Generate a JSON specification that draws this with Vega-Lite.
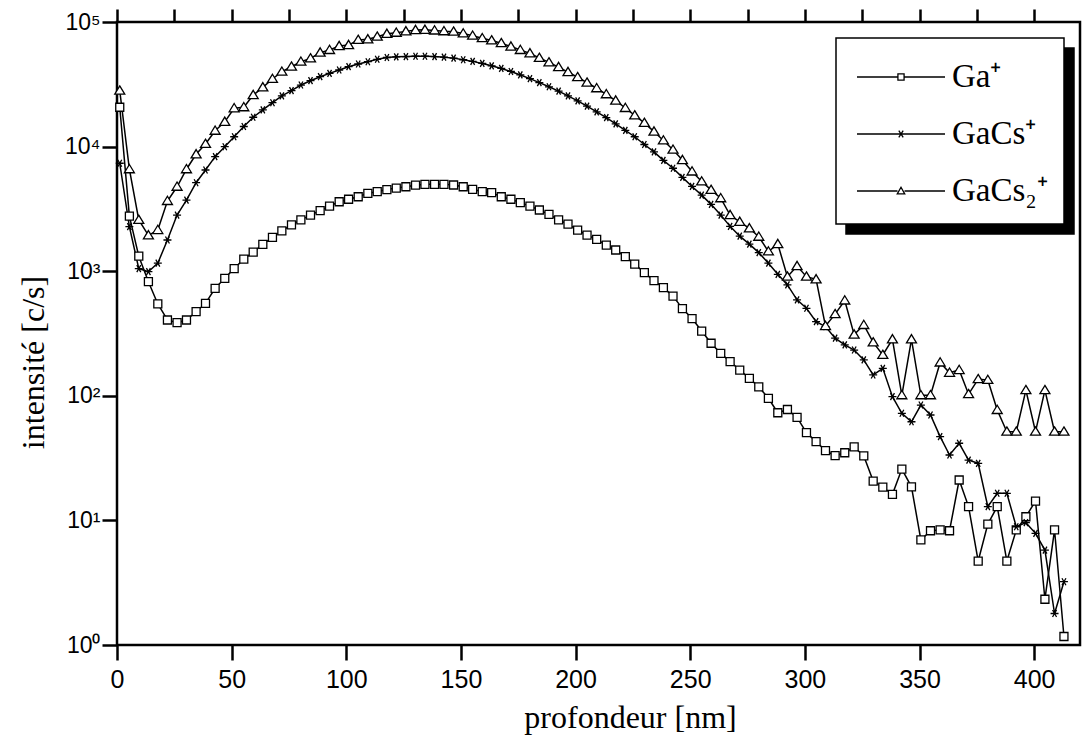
{
  "$schema": "https://vega.github.io/schema/vega-lite/v6.json",
  "width": 963,
  "height": 623,
  "autosize": {"type": "none"},
  "padding": {"left": 117, "top": 22, "right": 6, "bottom": 97},
  "background": "white",
  "config": {
    "view": {"stroke": "black", "strokeWidth": 2.5}
  },
  "data": {"values": [
    {"d":1.2,"Ga":20700,"GaCs":7350,"GaCs2":28100},
    {"d":5.4,"Ga":2770,"GaCs":2280,"GaCs2":6580},
    {"d":9.5,"Ga":1320,"GaCs":1050,"GaCs2":2580},
    {"d":13.7,"Ga":824,"GaCs":991,"GaCs2":1940},
    {"d":17.8,"Ga":546,"GaCs":1160,"GaCs2":2140},
    {"d":22.0,"Ga":406,"GaCs":1780,"GaCs2":3660},
    {"d":26.2,"Ga":386,"GaCs":2820,"GaCs2":4760},
    {"d":30.3,"Ga":406,"GaCs":3720,"GaCs2":6580},
    {"d":34.5,"Ga":473,"GaCs":5130,"GaCs2":8670},
    {"d":38.6,"Ga":552,"GaCs":6490,"GaCs2":10500},
    {"d":42.8,"Ga":729,"GaCs":8300,"GaCs2":13400},
    {"d":47.0,"Ga":877,"GaCs":9980,"GaCs2":15800},
    {"d":51.1,"Ga":1050,"GaCs":12000,"GaCs2":20300},
    {"d":55.3,"Ga":1250,"GaCs":14500,"GaCs2":20700},
    {"d":59.4,"Ga":1420,"GaCs":17200,"GaCs2":25900},
    {"d":63.6,"Ga":1640,"GaCs":19700,"GaCs2":29900},
    {"d":67.8,"Ga":1870,"GaCs":22500,"GaCs2":34900},
    {"d":71.9,"Ga":2110,"GaCs":25500,"GaCs2":39900},
    {"d":76.1,"Ga":2350,"GaCs":28100,"GaCs2":43800},
    {"d":80.2,"Ga":2580,"GaCs":31200,"GaCs2":48000},
    {"d":84.4,"Ga":2820,"GaCs":33800,"GaCs2":51000},
    {"d":88.6,"Ga":3060,"GaCs":36400,"GaCs2":56800},
    {"d":92.7,"Ga":3330,"GaCs":38700,"GaCs2":59600},
    {"d":96.9,"Ga":3610,"GaCs":41200,"GaCs2":64100},
    {"d":101.0,"Ga":3780,"GaCs":43800,"GaCs2":65300},
    {"d":105.2,"Ga":3960,"GaCs":46000,"GaCs2":71800},
    {"d":109.4,"Ga":4220,"GaCs":48000,"GaCs2":72600},
    {"d":113.5,"Ga":4350,"GaCs":50200,"GaCs2":76200},
    {"d":117.7,"Ga":4520,"GaCs":51900,"GaCs2":80400},
    {"d":121.8,"Ga":4650,"GaCs":52500,"GaCs2":82000},
    {"d":126.0,"Ga":4760,"GaCs":52800,"GaCs2":84100},
    {"d":130.2,"Ga":4900,"GaCs":53100,"GaCs2":86100},
    {"d":134.3,"Ga":4980,"GaCs":53100,"GaCs2":86500},
    {"d":138.5,"Ga":4980,"GaCs":52800,"GaCs2":85500},
    {"d":142.6,"Ga":4980,"GaCs":52200,"GaCs2":84300},
    {"d":146.8,"Ga":4920,"GaCs":51300,"GaCs2":83600},
    {"d":151.0,"Ga":4760,"GaCs":49800,"GaCs2":80900},
    {"d":155.1,"Ga":4540,"GaCs":48300,"GaCs2":77600},
    {"d":159.3,"Ga":4350,"GaCs":46500,"GaCs2":74100},
    {"d":163.4,"Ga":4270,"GaCs":44500,"GaCs2":71100},
    {"d":167.6,"Ga":3960,"GaCs":42400,"GaCs2":67600},
    {"d":171.8,"Ga":3780,"GaCs":40100,"GaCs2":63500},
    {"d":175.9,"Ga":3550,"GaCs":37600,"GaCs2":59600},
    {"d":180.1,"Ga":3330,"GaCs":35100,"GaCs2":56000},
    {"d":184.2,"Ga":3100,"GaCs":32600,"GaCs2":51500},
    {"d":188.4,"Ga":2860,"GaCs":30200,"GaCs2":47400},
    {"d":192.6,"Ga":2580,"GaCs":27900,"GaCs2":43500},
    {"d":196.7,"Ga":2390,"GaCs":25500,"GaCs2":39600},
    {"d":200.9,"Ga":2140,"GaCs":23300,"GaCs2":36100},
    {"d":205.0,"Ga":1950,"GaCs":21100,"GaCs2":32600},
    {"d":209.2,"Ga":1800,"GaCs":19000,"GaCs2":29400},
    {"d":213.4,"Ga":1620,"GaCs":17100,"GaCs2":26300},
    {"d":217.5,"Ga":1480,"GaCs":15200,"GaCs2":23400},
    {"d":221.7,"Ga":1310,"GaCs":13500,"GaCs2":20400},
    {"d":225.8,"Ga":1140,"GaCs":12000,"GaCs2":17800},
    {"d":230.0,"Ga":973,"GaCs":10400,"GaCs2":15500},
    {"d":234.2,"Ga":839,"GaCs":9080,"GaCs2":13200},
    {"d":238.3,"Ga":738,"GaCs":7760,"GaCs2":11200},
    {"d":242.5,"Ga":631,"GaCs":6700,"GaCs2":9440},
    {"d":246.6,"Ga":501,"GaCs":5660,"GaCs2":7800},
    {"d":250.8,"Ga":417,"GaCs":4790,"GaCs2":6310},
    {"d":255.0,"Ga":331,"GaCs":4080,"GaCs2":5250},
    {"d":259.1,"Ga":264,"GaCs":3440,"GaCs2":4490},
    {"d":263.3,"Ga":219,"GaCs":2820,"GaCs2":3850},
    {"d":267.4,"Ga":188,"GaCs":2290,"GaCs2":2820},
    {"d":271.6,"Ga":161,"GaCs":1910,"GaCs2":2490},
    {"d":275.8,"Ga":138,"GaCs":1650,"GaCs2":2210},
    {"d":279.9,"Ga":118,"GaCs":1410,"GaCs2":1890},
    {"d":284.1,"Ga":95.5,"GaCs":1160,"GaCs2":1440},
    {"d":288.2,"Ga":73.1,"GaCs":944,"GaCs2":1650},
    {"d":292.4,"Ga":77.6,"GaCs":776,"GaCs2":904},
    {"d":296.6,"Ga":67.1,"GaCs":589,"GaCs2":1100},
    {"d":300.7,"Ga":50.6,"GaCs":504,"GaCs2":904},
    {"d":304.9,"Ga":42.9,"GaCs":394,"GaCs2":861},
    {"d":309.0,"Ga":36.3,"GaCs":359,"GaCs2":363},
    {"d":313.2,"Ga":33.1,"GaCs":290,"GaCs2":452},
    {"d":317.4,"Ga":34.9,"GaCs":256,"GaCs2":582},
    {"d":321.5,"Ga":38.9,"GaCs":233,"GaCs2":310},
    {"d":325.7,"Ga":32.9,"GaCs":194,"GaCs2":370},
    {"d":329.8,"Ga":20.7,"GaCs":147,"GaCs2":268},
    {"d":334.0,"Ga":18.5,"GaCs":166,"GaCs2":213},
    {"d":338.2,"Ga":16.2,"GaCs":98.4,"GaCs2":284},
    {"d":342.3,"Ga":25.8,"GaCs":72.4,"GaCs2":101},
    {"d":346.5,"Ga":18.6,"GaCs":61.9,"GaCs2":284},
    {"d":350.6,"Ga":6.97,"GaCs":84.3,"GaCs2":101},
    {"d":354.8,"Ga":8.26,"GaCs":70.1,"GaCs2":101},
    {"d":359.0,"Ga":8.38,"GaCs":47.0,"GaCs2":185},
    {"d":363.1,"Ga":8.26,"GaCs":33.5,"GaCs2":153},
    {"d":367.3,"Ga":21.1,"GaCs":41.6,"GaCs2":161},
    {"d":371.4,"Ga":12.9,"GaCs":30.5,"GaCs2":103},
    {"d":375.6,"Ga":4.72,"GaCs":28.7,"GaCs2":136},
    {"d":379.8,"Ga":9.35,"GaCs":12.9,"GaCs2":134},
    {"d":383.9,"Ga":12.9,"GaCs":16.5,"GaCs2":76.9},
    {"d":388.1,"Ga":4.72,"GaCs":16.5,"GaCs2":51.5},
    {"d":392.2,"Ga":8.38,"GaCs":8.89,"GaCs2":51.5},
    {"d":396.4,"Ga":10.7,"GaCs":9.59,"GaCs2":111},
    {"d":400.6,"Ga":14.3,"GaCs":7.87,"GaCs2":51.5},
    {"d":404.7,"Ga":2.33,"GaCs":5.78,"GaCs2":111},
    {"d":408.9,"Ga":8.38,"GaCs":1.79,"GaCs2":51.5},
    {"d":413.0,"Ga":1.17,"GaCs":3.22,"GaCs2":51.5}
  ]},
  "transform": [{"fold": ["Ga", "GaCs", "GaCs2"], "as": ["ion", "c"]}],
  "layer": [
    {
      "mark": {"type": "line", "strokeWidth": 1.5},
      "encoding": {
        "x": {
          "field": "d", "type": "quantitative",
          "scale": {"domain": [0, 420], "nice": false, "zero": false},
          "axis": {
            "orient": "bottom", "grid": false, "domain": false, "ticks": false,
            "values": [0,50,100,150,200,250,300,350,400],
            "labelFont": "Liberation Sans", "labelFontSize": 25, "labelPadding": 22, "labelColor": "black",
            "labelFlush": false, "labelOverlap": false,
            "title": "profondeur [nm]", "titleFont": "Liberation Serif", "titleFontSize": 32, "titleColor": "black",
            "titleFontWeight": "normal", "titleX": 513, "titleY": 82, "titleBaseline": "alphabetic"
          }
        },
        "y": {
          "field": "c", "type": "quantitative",
          "scale": {"type": "log", "domain": [1, 100000], "nice": false},
          "axis": {
            "orient": "left", "grid": false, "domain": false, "ticks": false,
            "values": [1,10,100,1000,10000,100000],
            "labelExpr": "'10' + ['⁰','¹','²','³','⁴','⁵'][round(log(datum.value)/LN10)]",
            "labelFont": "Liberation Sans", "labelFontSize": 23, "labelPadding": 17, "labelColor": "black",
            "labelFlush": false, "labelOverlap": false,
            "title": "intensité [c/s]", "titleFont": "Liberation Serif", "titleFontSize": 32, "titleColor": "black",
            "titleFontWeight": "normal", "titleX": -74, "titleY": 340, "titleBaseline": "alphabetic", "titleAngle": -90
          }
        },
        "color": {
          "field": "ion", "type": "nominal",
          "scale": {"domain": ["Ga", "GaCs", "GaCs2"], "range": ["black", "black", "black"]},
          "legend": {
            "orient": "none", "legendX": 719, "legendY": 16, "title": null, "zindex": 2,
            "fillColor": "white", "strokeColor": "black",
            "padding": 16, "rowPadding": 17,
            "labelFont": "Liberation Serif", "labelFontSize": 33, "labelColor": "black",
            "labelOffset": 50, "symbolOffset": 4, "labelLimit": 300,
            "labelExpr": "datum.value === 'Ga' ? 'Ga⁺' : datum.value === 'GaCs' ? 'GaCs⁺' : 'GaCs₂⁺'",
            "encoding": {
              "legend": {"strokeWidth": {"value": 1.5}},
              "symbols": {
                "shape": {"value": {"expr": "datum.value === 'Ga' ? 'M-1,0H0.86M1.14,0H3M0.86,-0.14H1.14V0.14H0.86Z' : datum.value === 'GaCs' ? 'M-1,0H3M0.9,-0.15L1.1,0.15M0.9,0.15L1.1,-0.15' : 'M-1,0H0.84M1.16,0H3M1,-0.17L1.17,0.13H0.83Z'"}},
                "size": {"value": 1936},
                "fill": {"value": "white"},
                "stroke": {"value": "black"},
                "strokeWidth": {"value": 1.3}
              }
            }
          }
        }
      }
    },
    {
      "transform": [{"filter": "datum.ion === 'Ga'"}],
      "mark": {"type": "point", "shape": "M-0.8,-0.8H0.8V0.8H-0.8Z", "filled": true, "fill": "white", "stroke": "black", "strokeWidth": 1.3, "size": 100, "opacity": 1},
      "encoding": {
        "x": {
          "field": "d", "type": "quantitative",
          "axis": {
            "orient": "top", "labels": false, "title": null, "grid": false, "domain": false,
            "ticks": true, "tickColor": "black", "tickWidth": 2.5, "tickSize": 13,
            "values": [0,25,50,75,100,125,150,175,200,225,250,275,300,325,350,375,400]
          }
        },
        "y": {
          "field": "c", "type": "quantitative",
          "axis": {
            "orient": "left", "labels": false, "title": null, "grid": false, "domain": false,
            "ticks": true, "tickColor": "black", "tickWidth": 2.5, "tickSize": 15,
            "values": [1,10,100,1000,10000,100000]
          }
        }
      }
    },
    {
      "transform": [{"filter": "datum.ion === 'GaCs'"}],
      "mark": {"type": "point", "shape": "M-0.8,0H0.8M-0.4,-0.7L0.4,0.7M-0.4,0.7L0.4,-0.7", "filled": false, "stroke": "black", "strokeWidth": 1.3, "size": 100, "opacity": 1},
      "encoding": {
        "x": {
          "field": "d", "type": "quantitative",
          "axis": {
            "orient": "bottom", "labels": false, "title": null, "grid": false, "domain": false,
            "ticks": true, "tickColor": "black", "tickWidth": 2.5, "tickSize": 15,
            "values": [0,50,100,150,200,250,300,350,400]
          }
        },
        "y": {"field": "c", "type": "quantitative", "axis": null}
      }
    },
    {
      "transform": [{"filter": "datum.ion === 'GaCs2'"}],
      "mark": {"type": "point", "shape": "M0,-0.95L1,0.7H-1Z", "filled": true, "fill": "white", "stroke": "black", "strokeWidth": 1.3, "size": 100},
      "encoding": {
        "x": {"field": "d", "type": "quantitative", "axis": null},
        "y": {"field": "c", "type": "quantitative", "axis": null},
        "opacity": {
          "field": "d", "type": "quantitative",
          "scale": {"range": [1, 1]},
          "legend": {
            "type": "symbol", "values": [0, 200, 400],
            "orient": "none", "legendX": 729, "legendY": 26, "title": null, "zindex": 1,
            "fillColor": "black", "strokeColor": "black",
            "padding": 16, "rowPadding": 17,
            "labelFont": "Liberation Serif", "labelFontSize": 33, "labelColor": "black",
            "labelOffset": 50, "symbolOffset": 4, "labelLimit": 300,
            "labelExpr": "datum.value == 0 ? 'Ga⁺' : datum.value == 200 ? 'GaCs⁺' : 'GaCs₂⁺'",
            "encoding": {
              "legend": {"strokeWidth": {"value": 1.5}},
              "symbols": {
                "shape": {"value": "M-1,0H3"},
                "size": {"value": 1936},
                "fill": {"value": "black"},
                "stroke": {"value": "black"},
                "strokeWidth": {"value": 1.3},
                "opacity": {"value": 1}
              }
            }
          }
        }
      }
    }
  ],
  "resolve": {"axis": {"x": "independent", "y": "independent"}}
}
